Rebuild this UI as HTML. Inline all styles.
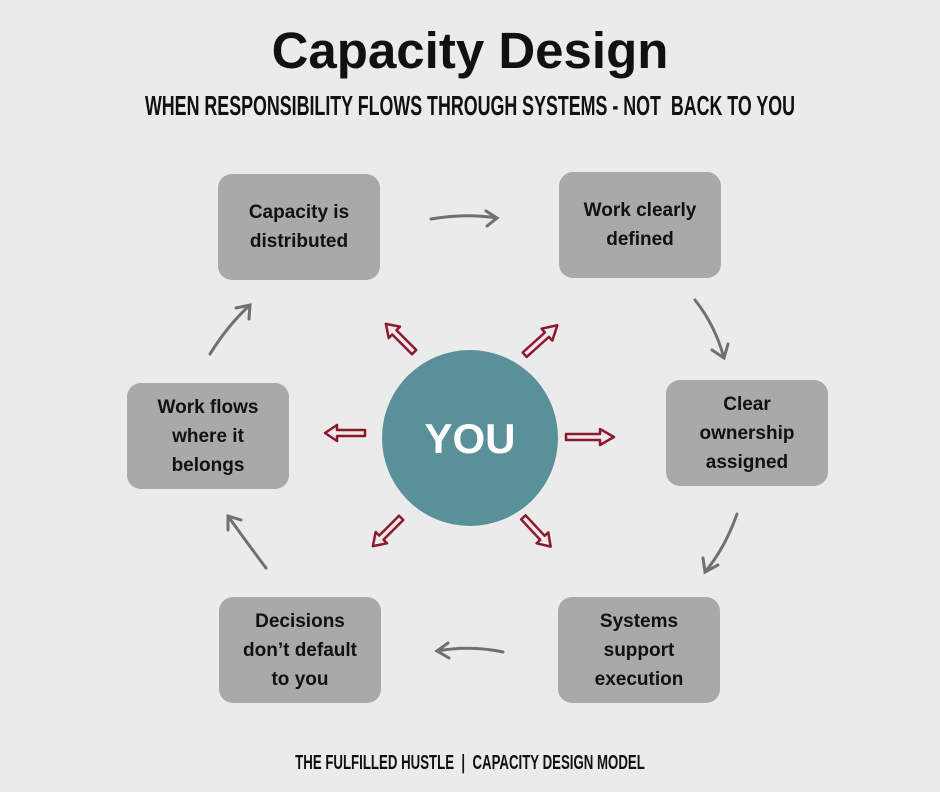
<!DOCTYPE html>
<html><head><style>
body{margin:0;width:940px;height:788px;background:#ebebeb;font-family:"Liberation Sans",sans-serif;overflow:hidden;position:relative}
.t{position:absolute;left:0;width:940px;height:40px;color:#111}
.cond{position:absolute;left:470px;top:0;white-space:nowrap;transform-origin:0 0;font-weight:bold}
.box{position:absolute;width:162px;height:106px;background:#a9a9a9;border-radius:14px;display:flex;align-items:center;justify-content:center;text-align:center;font-weight:bold;font-size:19px;line-height:29px;color:#111}
</style></head><body>
<div class="t" style="top:21px;font-size:51px;font-weight:bold;text-align:center;height:60px">Capacity Design</div>
<div class="t" style="top:90px;font-size:28px"><span class="cond" style="transform:scaleX(0.637) translateX(-50%)">WHEN RESPONSIBILITY FLOWS THROUGH SYSTEMS - NOT &nbsp;BACK TO YOU</span></div>
<div class="t" style="top:752px;font-size:20px"><span class="cond" style="transform:scaleX(0.662) translateX(-50%)">THE FULFILLED HUSTLE &nbsp;| &nbsp;CAPACITY DESIGN MODEL</span></div>

<div class="box" style="left:218px;top:174px">Capacity is<br>distributed</div>
<div class="box" style="left:559px;top:172px">Work clearly<br>defined</div>
<div class="box" style="left:666px;top:380px">Clear<br>ownership<br>assigned</div>
<div class="box" style="left:558px;top:597px">Systems<br>support<br>execution</div>
<div class="box" style="left:219px;top:597px">Decisions<br>don’t default<br>to you</div>
<div class="box" style="left:127px;top:383px">Work flows<br>where it<br>belongs</div>

<svg width="940" height="788" style="position:absolute;left:0;top:0">
<circle cx="470" cy="438" r="88" fill="#5a9098"/>
<text x="470" y="453" text-anchor="middle" font-family="Liberation Sans" font-weight="bold" font-size="42" fill="#fff">YOU</text>
<g fill="none" stroke="#707070" stroke-width="3" stroke-linecap="round">
<path d="M431 219 Q465 213 497 218"/><path d="M486 211 L497 218 L487 226"/>
<path d="M695 300 Q715 325 724 358"/><path d="M712 350 L724 358 L728 344"/>
<path d="M737 514 Q725 548 705 572"/><path d="M703 558 L705 572 L718 565"/>
<path d="M503 652 Q470 645 437 651"/><path d="M448 643 L437 651 L449 658"/>
<path d="M266 568 Q245 540 228 516"/><path d="M228 530 L228 516 L241 520"/>
<path d="M210 354 Q228 325 250 305"/><path d="M236 308 L250 305 L249 319"/>
</g>
<g fill="#f0e8e8" stroke="#8c1a2e" stroke-width="2.5" stroke-linejoin="round">
<g transform="translate(345 433) rotate(180)"><path d="M-20 -3 L8 -3 L8 -8 L20 0 L8 8 L8 3 L-20 3 Z"/></g>
<g transform="translate(590 437)"><path d="M-24 -3 L10 -3 L10 -8 L24 0 L10 8 L10 3 L-24 3 Z"/></g>
<g transform="translate(400 338) rotate(-135)"><path d="M-20 -3 L8 -3 L8 -8 L20 0 L8 8 L8 3 L-20 3 Z"/></g>
<g transform="translate(541 340) rotate(-42)"><path d="M-22 -3 L8 -3 L8 -8 L22 0 L8 8 L8 3 L-22 3 Z"/></g>
<g transform="translate(387 532) rotate(135)"><path d="M-20 -3 L8 -3 L8 -8 L20 0 L8 8 L8 3 L-20 3 Z"/></g>
<g transform="translate(537 532) rotate(47)"><path d="M-20 -3 L8 -3 L8 -8 L20 0 L8 8 L8 3 L-20 3 Z"/></g>
</g>
</svg>
</body></html>
